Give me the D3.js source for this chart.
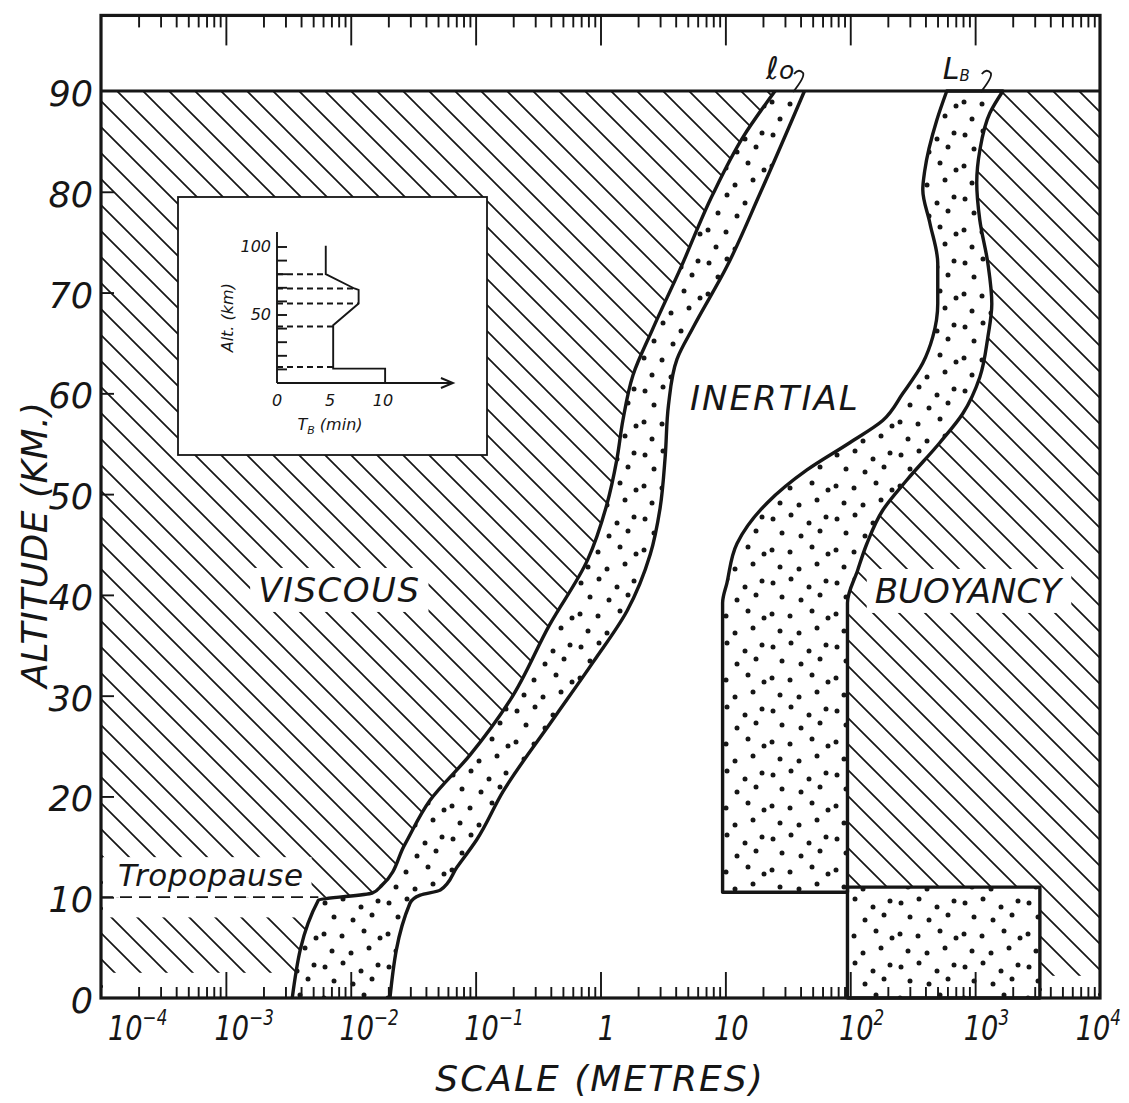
<!DOCTYPE html>
<html>
<head>
<meta charset="utf-8">
<script src="https://cdn.jsdelivr.net/npm/d3@7"></script>
<style>
body { margin: 0; background: #fff; }
text { font-family: "DejaVu Sans", sans-serif; font-style: oblique; fill: #161616; }
</style>
</head>
<body>
<svg></svg>
<script>
const size = {w: 1129, h: 1103};
const margin = {t: 15, r: 29, b: 105, l: 101};
const ink = '#161616';

// boundaries: [scale (m), altitude (km)]
const loLeft = [[3.4e-3, 0], [5.5e-3, 9.7], [1.48e-2, 10.4], [1.78e-2, 11.2], [2.7e-2, 15.2],
    [4.3e-2, 19.6], [9.0e-2, 24.1], [0.19, 29.6], [0.39, 37.0], [0.79, 43.5], [1.12, 48.9],
    [1.35, 53.4], [1.51, 57.3], [1.82, 61.8], [2.6, 66.3], [4.3, 72.2], [7.9, 79.7],
    [13.8, 85.4], [25, 90]];
const loRight = [[2.06e-2, 0], [2.98e-2, 9.4], [3.6e-2, 10.2], [5.2e-2, 10.7], [7.1e-2, 13.0],
    [0.102, 15.7], [0.166, 20.5], [0.42, 27.7], [0.87, 33.3], [1.63, 38.4], [2.5, 44.0],
    [3.0, 48.6], [3.3, 53.8], [3.5, 58.8], [4.1, 63.4], [5.5, 66.5], [10.3, 72.6],
    [18.9, 79.8], [43, 90]];
const lbLeft = [[9.5, 10.5], [9.5, 39.2], [10.3, 41.2], [12.4, 45.1], [21.5, 49.1], [45, 52.4],
    [99, 55.1], [182, 57.3], [264, 60.0], [381, 63.0], [458, 65.6], [502, 68.9], [502, 72.9],
    [434, 76.9], [381, 80.2], [395, 82.1], [493, 87.1], [593, 90]];
const lbRight = [[95, 10.5], [95, 39.2], [115, 42.5], [136, 45.1], [182, 48.4], [284, 51.4],
    [521, 55.1], [797, 58.0], [1090, 61.6], [1265, 65.6], [1360, 68.9], [1265, 72.9],
    [1090, 77.2], [1030, 80.9], [1090, 84.1], [1310, 87.8], [1670, 90]];
const lbLowScale = [95, 3300];   // band below the tropopause
const lbLowTop = 11.0;
const tropopause = 10;

const xDomain = [1e-4, 1e4];
const altTop = 97.5;
const altTicks = [0, 10, 20, 30, 40, 50, 60, 70, 80, 90];
const scaleTicks = [1e-4, 1e-3, 1e-2, 1e-1, 1, 10, 1e2, 1e3, 1e4];
const scaleLabels = [['10', '−4'], ['10', '−3'], ['10', '−2'], ['10', '−1'], ['1', ''],
    ['10', ''], ['10', '2'], ['10', '3'], ['10', '4']];

// inset: buoyancy period profile
const tbAlt = [101, 80, 69.5, 68.5, 58.5, 42.5, 10.6, 10.6, 0];
const tbVal = [4.6, 4.6, 7.3, 7.7, 7.7, 5.3, 5.3, 10.2, 10.2];
const tbDashAlt = [80, 69.5, 58.5, 41.5, 11.8];
const tbDashVal = [4.6, 7.3, 7.7, 5.3, 5.3];
const tbAltTicks = [10, 20, 30, 40, 50, 60, 70, 80, 90, 100];
const tbAltLabels = [100, 50];
const tbValLabels = [0, 5, 10];

const svg = d3.select('svg').attr('width', size.w).attr('height', size.h);

const x = d3.scaleLog().domain(xDomain).range([margin.l, size.w - margin.r]);
const y = d3.scaleLinear().domain([0, 90]).range([size.h - margin.b, 91]);

const defs = svg.append('defs');
const hatch = defs.append('pattern').attr('id', 'hatch')
    .attr('patternUnits', 'userSpaceOnUse').attr('width', 26).attr('height', 26);
hatch.append('path').attr('d', 'M0,0L26,26M-4,22L4,30M22,-4L30,4')
    .attr('stroke', ink).attr('stroke-width', 1.7);

const dots = defs.append('pattern').attr('id', 'dots')
    .attr('patternUnits', 'userSpaceOnUse').attr('width', 64).attr('height', 64);
dots.append('rect').attr('width', 64).attr('height', 64).attr('fill', '#fff');
dots.selectAll('circle')
    .data([[5, 7], [23, 3], [41, 11], [58, 5], [14, 21], [33, 24], [52, 19], [4, 38],
        [22, 40], [44, 35], [60, 42], [12, 55], [31, 57], [49, 52]])
    .join('circle')
    .attr('cx', d => d[0]).attr('cy', d => d[1]).attr('r', 2.5).attr('fill', ink);

const line = d3.line().x(d => x(d[0])).y(d => y(d[1])).curve(d3.curveMonotoneY);
const joinUp = (a, b) => line(a) + line(b.slice().reverse()).replace(/^M/, 'L') + 'Z';

const hatchG = svg.append('g');
const maskG = svg.append('g');
const bandG = svg.append('g');
const lineG = svg.append('g');
const axisG = svg.append('g');
const textG = svg.append('g');

// hatched regions
hatchG.append('path')
    .attr('d', line(loLeft) + `L${x(xDomain[0])},${y(90)}L${x(xDomain[0])},${y(0)}Z`)
    .attr('fill', 'url(#hatch)');
const lbUpper = [[lbLowScale[0], lbLowTop]].concat(lbRight.filter(d => d[1] > lbLowTop));
hatchG.append('path')
    .attr('d', line(lbUpper) + `L${x(xDomain[1])},${y(90)}L${x(xDomain[1])},${y(0)}` +
        `L${x(lbLowScale[1])},${y(0)}L${x(lbLowScale[1])},${y(lbLowTop)}Z`)
    .attr('fill', 'url(#hatch)');

// white gaps in the hatching
const gaps = [[xDomain[0], 1e-2, 0, 2.5], [xDomain[0], 1e-2, 8.0, tropopause],
    [lbLowScale[1], xDomain[1], 0, 2.2]];
maskG.selectAll('rect.gap').data(gaps).join('rect').attr('class', 'gap')
    .attr('x', d => x(d[0]) + 2).attr('width', d => x(d[1]) - x(d[0]) - 4)
    .attr('y', d => y(d[3])).attr('height', d => y(d[2]) - y(d[3]))
    .attr('fill', '#fff');

// stippled bands
bandG.append('path').attr('d', joinUp(loLeft, loRight)).attr('fill', 'url(#dots)');
bandG.append('path').attr('d', joinUp(lbLeft, lbRight)).attr('fill', 'url(#dots)');
bandG.append('rect')
    .attr('x', x(lbLowScale[0])).attr('width', x(lbLowScale[1]) - x(lbLowScale[0]))
    .attr('y', y(lbLowTop)).attr('height', y(0) - y(lbLowTop))
    .attr('fill', 'url(#dots)');

// boundary lines
lineG.selectAll('path.curve').data([loLeft, loRight]).join('path').attr('class', 'curve')
    .attr('d', line);
lineG.append('path').attr('d', joinUp(lbLeft, lbRight));
lineG.append('rect')
    .attr('x', x(lbLowScale[0])).attr('width', x(lbLowScale[1]) - x(lbLowScale[0]))
    .attr('y', y(lbLowTop)).attr('height', y(0) - y(lbLowTop));
lineG.selectAll('path, rect').attr('fill', 'none').attr('stroke', ink)
    .attr('stroke-width', 3.4).attr('stroke-linejoin', 'round');

lineG.append('line')
    .attr('x1', x(xDomain[0])).attr('x2', x(loLeft[1][0]))
    .attr('y1', y(tropopause)).attr('y2', y(tropopause))
    .attr('stroke', ink).attr('stroke-width', 1.8).attr('stroke-dasharray', '12,7');

// frame and axes
axisG.append('rect')
    .attr('x', x(xDomain[0])).attr('width', x(xDomain[1]) - x(xDomain[0]))
    .attr('y', y(altTop)).attr('height', y(0) - y(altTop))
    .attr('fill', 'none').attr('stroke', ink).attr('stroke-width', 3.2);
axisG.append('line')
    .attr('x1', x(xDomain[0])).attr('x2', x(xDomain[1]))
    .attr('y1', y(90)).attr('y2', y(90))
    .attr('stroke', ink).attr('stroke-width', 3);

const allTicks = x.ticks();
const minor = allTicks.filter(v => Math.abs(Math.log10(v) - Math.round(Math.log10(v))) > 1e-6);
const major = scaleTicks.slice(1, -1);

function addAxis(axis, tr) {
    const g = axisG.append('g').attr('transform', tr).call(axis);
    g.select('.domain').remove();
    g.selectAll('.tick line').attr('stroke', ink).attr('stroke-width', 1.9);
    g.selectAll('.tick text').remove();
}
addAxis(d3.axisTop(x).tickValues(minor).tickSize(-12), `translate(0,${y(altTop)})`);
addAxis(d3.axisTop(x).tickValues(major).tickSize(-30), `translate(0,${y(altTop)})`);
addAxis(d3.axisBottom(x).tickValues(minor).tickSize(-11), `translate(0,${y(0)})`);
addAxis(d3.axisBottom(x).tickValues(major).tickSize(-26), `translate(0,${y(0)})`);
addAxis(d3.axisLeft(y).tickValues(altTicks.slice(1, -1)).tickSize(-13),
    `translate(${x(xDomain[0])},0)`);

// tick labels
textG.selectAll('text.alt').data(altTicks).join('text').attr('class', 'alt')
    .attr('x', x(xDomain[0]) - 8).attr('y', d => y(d) + 15)
    .attr('text-anchor', 'end').attr('font-size', 35)
    .text(d => d);

const squeeze = 0.8;
scaleTicks.forEach((v, i) => {
    const t = textG.append('text').attr('font-size', 34);
    const base = t.append('tspan').text(scaleLabels[i][0]);
    if (scaleLabels[i][1]) {
        t.append('tspan').attr('font-size', 21).attr('dy', -15).text(scaleLabels[i][1]);
    }
    const w = base.node().getComputedTextLength() * squeeze;
    const full = t.node().getComputedTextLength() * squeeze;
    let px = x(v) - w / 2 + 6;
    if (i === 0) px = x(v) + 7;
    if (i === scaleTicks.length - 1) px = size.w - 8 - full;
    t.attr('transform', `translate(${px},1040) scale(${squeeze},1)`);
});

textG.append('text')
    .attr('x', 600).attr('y', 1091).attr('text-anchor', 'middle')
    .attr('font-size', 36).attr('letter-spacing', 2)
    .text('SCALE (METRES)');
textG.append('text')
    .attr('transform', `translate(47,${y(45)}) rotate(-90)`).attr('text-anchor', 'middle')
    .attr('font-size', 36).attr('letter-spacing', 0.5)
    .text('ALTITUDE (KM.)');

// region names
const regions = [
    {name: 'VISCOUS', at: [8.1e-3, 39.3], spacing: 1.5},
    {name: 'INERTIAL', at: [24.9, 58.3], spacing: 2},
    {name: 'BUOYANCY', at: [875, 39.2], spacing: 0}
];
regions.forEach(r => {
    const t = textG.append('text')
        .attr('x', x(r.at[0])).attr('y', y(r.at[1]))
        .attr('text-anchor', 'middle').attr('font-size', 34)
        .attr('letter-spacing', r.spacing).text(r.name);
    const b = t.node().getBBox();
    maskG.append('rect').attr('x', b.x - 8).attr('y', b.y - 2)
        .attr('width', b.width + 16).attr('height', b.height + 4).attr('fill', '#fff');
});

const trop = textG.append('text')
    .attr('x', x(1.37e-4)).attr('y', y(11.1))
    .attr('font-size', 31).attr('letter-spacing', 0.5).text('Tropopause');
const tb = trop.node().getBBox();
maskG.append('rect').attr('x', x(xDomain[0]) + 2).attr('y', tb.y)
    .attr('width', tb.x + tb.width + 6 - x(xDomain[0])).attr('height', y(tropopause) - tb.y)
    .attr('fill', '#fff');

// curve names with leader hooks
const loTop = x(loLeft[loLeft.length - 1][0]);
const lbTop = x(lbLeft[lbLeft.length - 1][0]);
const lo = textG.append('text').attr('x', loTop - 9).attr('y', 79).attr('font-size', 31);
lo.append('tspan').text('ℓ');
lo.append('tspan').attr('font-size', 25).text('o');
const lb = textG.append('text').attr('x', lbTop - 4).attr('y', 79).attr('font-size', 30);
lb.append('tspan').text('L');
lb.append('tspan').attr('font-size', 15).attr('dy', 2).text('B');
textG.selectAll('path.hook').data([loTop + 19, lbTop + 35]).join('path')
    .attr('class', 'hook')
    .attr('d', d => `M${d},74q5,-6 9,-1q2,4 -10,19`)
    .attr('fill', 'none').attr('stroke', ink).attr('stroke-width', 1.9);

// inset
const inset = svg.append('g');
inset.append('rect').attr('x', 178).attr('y', 197).attr('width', 309).attr('height', 258)
    .attr('fill', '#fff').attr('stroke', ink).attr('stroke-width', 1.8);
const ix = d3.scaleLinear().domain([0, 10]).range([277, 383]);
const iy = d3.scaleLinear().domain([0, 100]).range([383, 247]);

inset.append('line').attr('x1', ix(0)).attr('x2', ix(0)).attr('y1', iy(0)).attr('y2', iy(111));
inset.append('line').attr('x1', ix(0)).attr('x2', ix(16.6)).attr('y1', iy(0)).attr('y2', iy(0));
inset.append('path')
    .attr('d', `M${ix(16.6) - 12},${iy(0) - 5}L${ix(16.6)},${iy(0)}L${ix(16.6) - 12},${iy(0) + 5}`)
    .attr('fill', 'none');
inset.selectAll('line.tk').data(tbAltTicks).join('line').attr('class', 'tk')
    .attr('x1', ix(0)).attr('x2', ix(0) + 10)
    .attr('y1', d => iy(d)).attr('y2', d => iy(d));
inset.selectAll('line.dash').data(tbDashAlt).join('line').attr('class', 'dash')
    .attr('x1', ix(0)).attr('x2', (d, i) => ix(tbDashVal[i]))
    .attr('y1', d => iy(d)).attr('y2', d => iy(d))
    .attr('stroke-dasharray', '6,4');
inset.append('path')
    .attr('d', d3.line().x((d, i) => ix(tbVal[i])).y(d => iy(d))(tbAlt))
    .attr('fill', 'none');
inset.selectAll('line, path').attr('stroke', ink).attr('stroke-width', 1.9);

inset.selectAll('text.ia').data(tbAltLabels).join('text').attr('class', 'ia')
    .attr('x', ix(0) - 6).attr('y', d => iy(d) + 5)
    .attr('text-anchor', 'end').attr('font-size', 16).text(d => d);
inset.selectAll('text.iv').data(tbValLabels).join('text').attr('class', 'iv')
    .attr('x', d => ix(d)).attr('y', 406)
    .attr('text-anchor', 'middle').attr('font-size', 16).text(d => d);
inset.append('text').attr('transform', `translate(233,${iy(48)}) rotate(-90)`)
    .attr('text-anchor', 'middle').attr('font-size', 16)
    .text('Alt. (km)');
const tbl = inset.append('text').attr('x', ix(5)).attr('y', 430)
    .attr('text-anchor', 'middle').attr('font-size', 16);
tbl.append('tspan').text('T');
tbl.append('tspan').attr('font-size', 11).attr('dy', 4).text('B');
tbl.append('tspan').attr('dy', -4).text(' (min)');
</script>
</body>
</html>
